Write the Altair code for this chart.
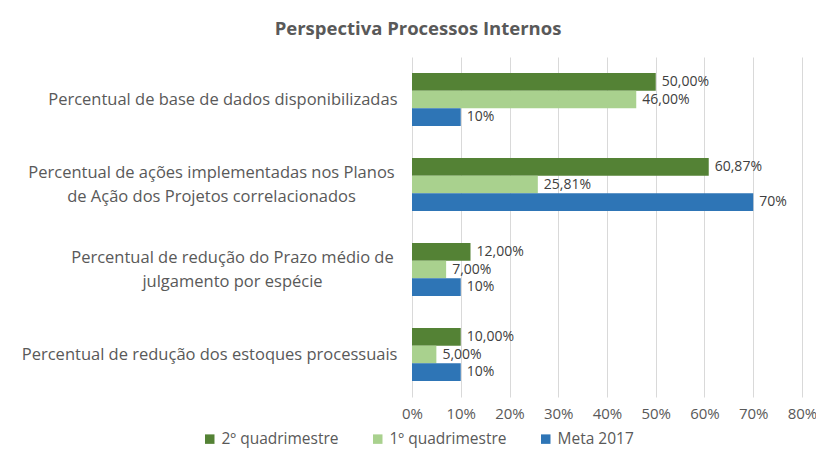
import altair as alt
import pandas as pd

categories = [
    "Percentual de base de dados disponibilizadas",
    "Percentual de ações implementadas nos Planos\nde Ação dos Projetos correlacionados",
    "Percentual de redução do Prazo médio de\njulgamento por espécie",
    "Percentual de redução dos estoques processuais",
]
series = ["2º quadrimestre", "1º quadrimestre", "Meta 2017"]
q2_values = [50.00, 60.87, 12.00, 10.00]
q1_values = [46.00, 25.81, 7.00, 5.00]
meta_values = [10, 70, 10, 10]
q2_labels = ["50,00%", "60,87%", "12,00%", "10,00%"]
q1_labels = ["46,00%", "25,81%", "7,00%", "5,00%"]
meta_labels = ["10%", "70%", "10%", "10%"]
colors = ["#548235", "#A9D18E", "#2E75B6"]

rows = []
for s, vals, labs in zip(series, [q2_values, q1_values, meta_values], [q2_labels, q1_labels, meta_labels]):
    for c, v, l in zip(categories, vals, labs):
        rows.append({"categoria": c, "serie": s, "valor": v / 100.0, "rotulo": l})
df = pd.DataFrame(rows)

FONT = "Open Sans"
GRAY = "#595959"

multi = "indexof(datum.value, '\\n') >= 0"
label_align = {"condition": {"test": multi, "value": "center"}, "value": "right"}
label_offset = {"condition": {"test": multi, "value": -12}, "value": 0}
label_padding = {"condition": [
    {"test": "indexof(datum.value, 'Planos') >= 0", "value": 201},
    {"test": "indexof(datum.value, 'julgamento') >= 0", "value": 180},
], "value": 15}

y_enc = alt.Y("categoria:N", sort=categories, title=None,
              scale=alt.Scale(paddingInner=0.376, paddingOuter=0.188),
              axis=alt.Axis(labelExpr="split(datum.label, '\\n')", labelAlign=label_align,
                            labelOffset=label_offset,
                            labelFont=FONT, labelFontSize=16.5, labelColor=GRAY,
                            labelPadding=label_padding, ticks=False, domain=False, labelLimit=500,
                            labelLineHeight=24))
yoff = alt.YOffset("serie:N", sort=series)

bars = alt.Chart(df).mark_bar().encode(
    x=alt.X("valor:Q", title=None,
            scale=alt.Scale(domain=[0, 0.8], nice=False),
            axis=alt.Axis(values=[0, 0.1, 0.2, 0.3, 0.4, 0.5, 0.6, 0.7, 0.8], format=".0%",
                          labelFont=FONT, labelFontSize=15, labelColor=GRAY,
                          labelPadding=9, labelFlush=False, ticks=False, domain=False,
                          gridColor="#D9D9D9", gridWidth=1)),
    y=y_enc,
    yOffset=yoff,
    color=alt.Color("serie:N", sort=series,
                    scale=alt.Scale(domain=series, range=colors),
                    legend=alt.Legend(title=None, orient="none", direction="horizontal",
                                      legendX=-210, legendY=374,
                                      symbolType="square", symbolSize=90,
                                      symbolStrokeWidth=0,
                                      labelFont=FONT, labelFontSize=15.5, labelColor=GRAY,
                                      columnPadding=31, labelOffset=4)),
)

texts = alt.Chart(df).mark_text(align="left", baseline="middle", dx=6,
                                font=FONT, fontSize=14, color="#404040").encode(
    x="valor:Q",
    y=alt.Y("categoria:N", sort=categories),
    yOffset=yoff,
    text="rotulo:N",
)

chart = (bars + texts).properties(
    width=390, height=340,
    title=alt.TitleParams("Perspectiva Processos Internos", font=FONT, fontSize=18.5,
                          fontWeight="bold", color=GRAY, anchor="middle", dx=-189, dy=-15),
    autosize=alt.AutoSizeParams(type="none"),
    padding={"left": 404, "top": 49, "right": 14, "bottom": 55},
).configure_view(stroke=None)

chart.save("out.html", embed_options={"renderer": "svg", "actions": False})
